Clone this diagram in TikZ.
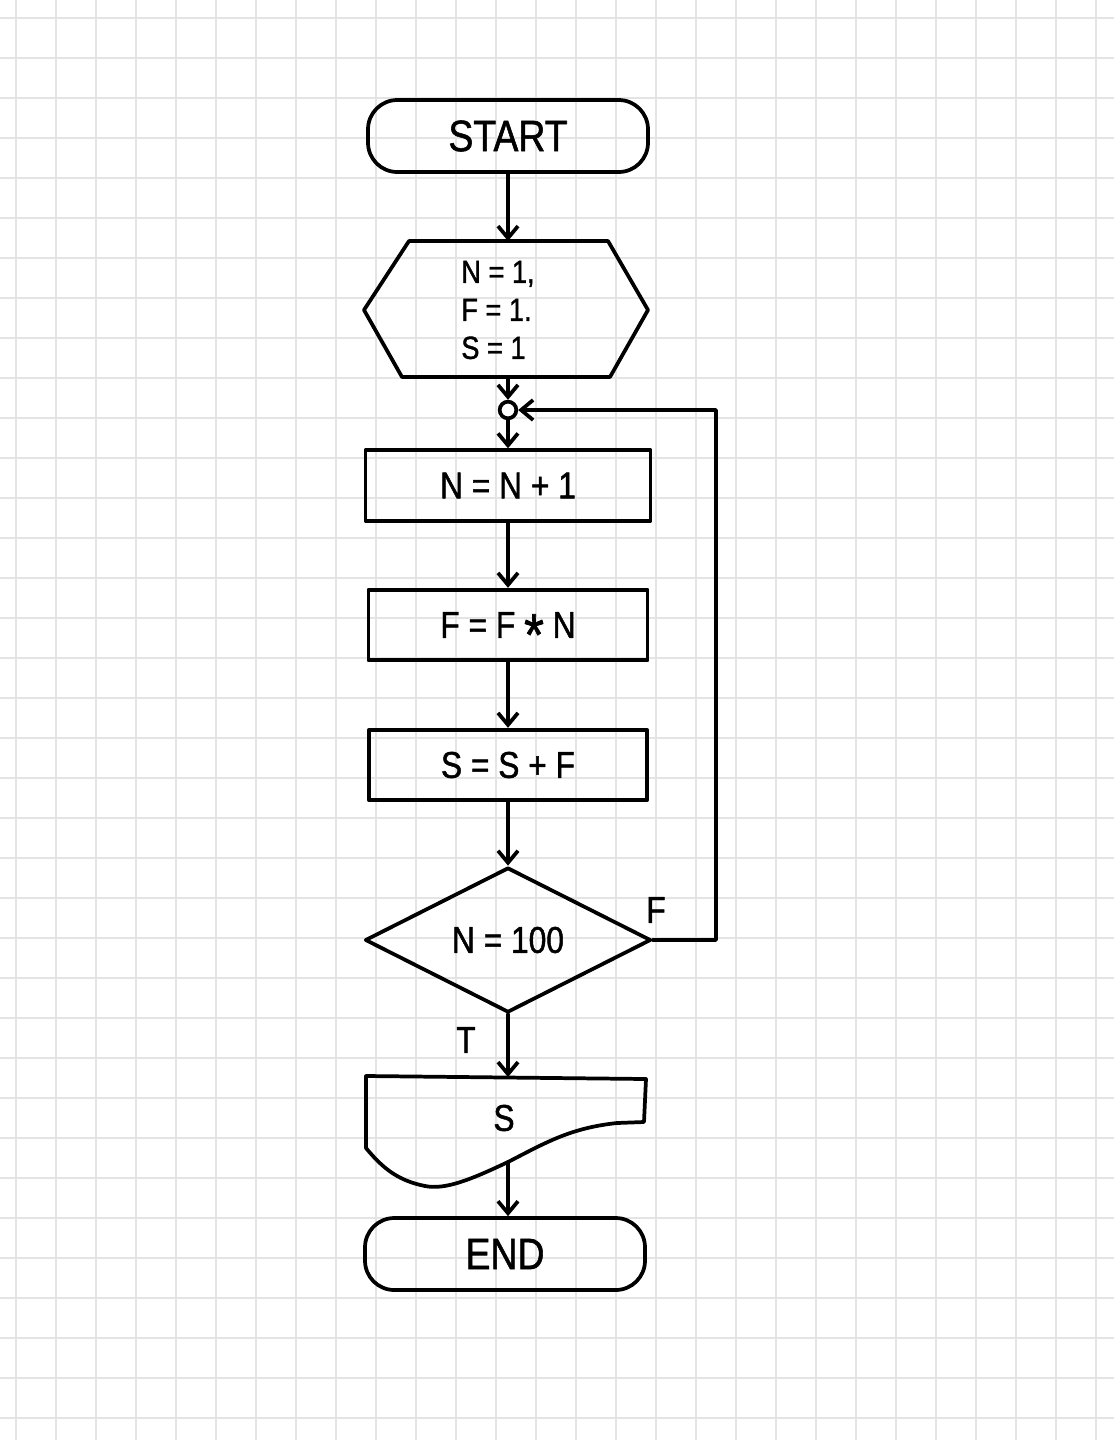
\documentclass[tikz,border=0pt]{standalone}
\usepackage{fontspec}
\newfontfamily\handfont[FakeStretch=0.85,FakeBold=1.2]{Liberation Sans}
\usetikzlibrary{arrows.meta,shapes.geometric}

\definecolor{gridgray}{RGB}{228,228,228}

\tikzset{every picture/.style={line width=0.75pt}}
\tikzset{
	ink/.style={line width=2.8pt, line join=round, line cap=round},
	gridline/.style={draw=gridgray, line width=1.2pt},
	terminal/.style={ink, draw, rounded corners=22pt, minimum width=210pt, minimum height=54pt, inner sep=0pt, font=\handfont\fontsize{33}{38}\selectfont},
	procbox/.style={ink, draw, minimum height=53pt, inner sep=0pt, font=\handfont\fontsize{28}{34}\selectfont},
	decide/.style={ink, draw, diamond, minimum width=214.5pt, minimum height=108.75pt, inner sep=0pt, font=\handfont\fontsize{28}{34}\selectfont},
	txt/.style={inner sep=0.75pt, font=\handfont\fontsize{28}{34}\selectfont},
	flow/.style={ink, -{Straight Barb[length=9pt,width=15pt]}},
}

\begin{document}
\begin{tikzpicture}[x=0.75pt,y=0.75pt,yscale=-1,xscale=1]
				\useasboundingbox (0,0) rectangle (1114,1440);
				\fill[white] (0,0) rectangle (1114,1440);
				%Grid paper
				\foreach \gx in {16,56,...,1096} \draw[gridline] (\gx,0) -- (\gx,1440);
				\foreach \gy in {18,58,...,1418} \draw[gridline] (0,\gy) -- (1114,\gy);

				%Shape: Terminal [id:start]
				\node [terminal] (start) at (508,136) {START};
				%Shape: Hexagon [id:init]
				\draw [ink] (409,241) -- (608,241) -- (648,310) -- (610,377) -- (402,377) -- (364,310) -- cycle ;
				\coordinate (inittop) at (508,241);
				\coordinate (initbot) at (508,377);
				% Text Node
				\node [txt, align=left, font=\handfont\fontsize{24}{28.5}\selectfont] (init) at (498,310) {N = 1,\\F = 1.\\S = 1};
				%Shape: Circle [id:junc]
				\node [ink, draw, circle, minimum size=12.5pt, inner sep=0pt] (junc) at (508,410) {};
				%Shape: Rectangle [id:step1]
				\node [procbox, minimum width=213.75pt] (step1) at (508,485.5) {N = N + 1};
				%Shape: Rectangle [id:step2]
				\node [procbox, minimum width=209.25pt] (step2) at (508,625) {F = F \raisebox{-0.47em}[0pt][0pt]{\scalebox{1.6}{*}} N};
				%Shape: Rectangle [id:step3]
				\node [procbox, minimum width=208.5pt] (step3) at (508,765) {S = S + F};
				%Shape: Diamond [id:dec]
				\node [decide] (dec) at (508,940) {N = 100};
				%Shape: Document [id:out]
				\draw [ink] (366,1076) -- (646,1079) -- (644,1122) -- (617,1123) .. controls (570,1128) and (545,1143) .. (508,1162) .. controls (470,1180) and (445,1190) .. (425,1186) .. controls (400,1181) and (384,1170) .. (366,1148) -- cycle ;
				\coordinate (outtop) at (508,1077);
				\coordinate (outbot) at (508,1162);
				% Text Node
				\node [txt] (out) at (504,1118) {S};
				%Shape: Terminal [id:end]
				\node [terminal] (end) at (505,1254) {END};

				% Connectors
				\draw [flow] (start.south) -- (inittop);
				\draw [flow] (initbot) -- (junc.north);
				\draw [flow] (junc.south) -- (step1.north);
				\draw [flow] (step1.south) -- (step2.north);
				\draw [flow] (step2.south) -- (step3.north);
				\draw [flow] (step3.south) -- (dec.north);
				\draw [flow] (dec.east) -- (716,940) |- (junc.east);
				\draw [flow] (dec.south) -- (outtop);
				\draw [flow] (outbot) -- (outbot |- end.north);

				% Text Node
				\node [txt] (flab) at (656,910) {F};
				% Text Node
				\node [txt] (tlab) at (466,1040) {T};
\end{tikzpicture}
\end{document}
